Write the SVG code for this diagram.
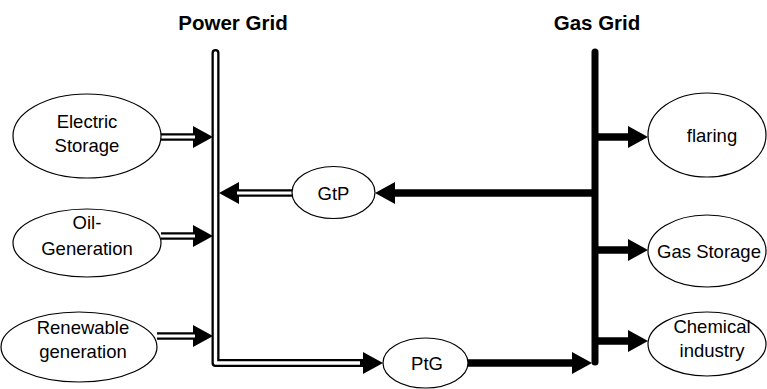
<svg xmlns="http://www.w3.org/2000/svg" width="767" height="389" viewBox="0 0 767 389">
<defs>
<style>
.node ellipse{fill:#fff;stroke:#000;stroke-width:1.2}
.lbl{font-family:"Liberation Sans",Arial,sans-serif;font-size:18.5px;fill:#000;text-anchor:middle}
.title{font-family:"Liberation Sans",Arial,sans-serif;font-size:20.5px;font-weight:bold;fill:#000;text-anchor:middle}
.out{fill:none;stroke:#000;stroke-width:7.5}
.in{fill:none;stroke:#fff;stroke-width:2.8}
.bus-out{fill:none;stroke:#000;stroke-width:8;stroke-linecap:round;stroke-linejoin:round}
.bus-in{fill:none;stroke:#fff;stroke-width:3.4;stroke-linecap:round;stroke-linejoin:round}
.thick{fill:none;stroke:#000;stroke-width:7.5}
.gbus{fill:none;stroke:#000;stroke-width:7;stroke-linecap:round}
</style>
<marker id="ah" markerUnits="userSpaceOnUse" viewBox="0 0 20 22" refX="0" refY="11" markerWidth="20" markerHeight="22" orient="auto">
<path d="M0,0 L20,11 L0,22 Z" fill="#000"/>
</marker>
</defs>
<rect width="767" height="389" fill="#fff"/>

<g id="titles">
<text class="title" x="233" y="30">Power Grid</text>
<text class="title" x="597" y="30">Gas Grid</text>
</g>

<g id="connectors">
<!-- power bus -->
<path class="bus-out" d="M215.5,53 V363 H363"/>
<path class="bus-in" d="M215.5,53 V363 H364"/>
<path class="out" d="M360,363 H363" marker-end="url(#ah)"/>
<!-- gas bus -->
<path class="gbus" d="M595,52 V362"/>
<!-- left inputs -->
<path class="out" d="M161,137 H193" marker-end="url(#ah)"/>
<path class="in" d="M161,137 H195"/>
<path class="out" d="M161,236 H193" marker-end="url(#ah)"/>
<path class="in" d="M161,236 H195"/>
<path class="out" d="M157,336 H193" marker-end="url(#ah)"/>
<path class="in" d="M157,336 H195"/>
<!-- GtP to power -->
<path class="out" d="M292,193 H239" marker-end="url(#ah)"/>
<path class="in" d="M292,193 H237"/>
<!-- gas to GtP -->
<path class="thick" d="M595,193 H395" marker-end="url(#ah)"/>
<!-- PtG to gas -->
<path class="thick" d="M468,363 H572" marker-end="url(#ah)"/>
<!-- gas outputs -->
<path class="thick" d="M595,137 H628" marker-end="url(#ah)"/>
<path class="thick" d="M595,250 H628" marker-end="url(#ah)"/>
<path class="thick" d="M595,341 H628" marker-end="url(#ah)"/>
</g>

<g id="electric-storage" class="node">
<ellipse cx="87" cy="136" rx="74" ry="42"/>
<text class="lbl" x="87" y="128">Electric</text>
<text class="lbl" x="87" y="152">Storage</text>
</g>
<g id="oil-generation" class="node">
<ellipse cx="87" cy="243" rx="74" ry="34"/>
<text class="lbl" x="87" y="229">Oil-</text>
<text class="lbl" x="87" y="255">Generation</text>
</g>
<g id="renewable-generation" class="node">
<ellipse cx="79" cy="347" rx="78" ry="35"/>
<text class="lbl" x="83" y="334">Renewable</text>
<text class="lbl" x="83" y="358">generation</text>
</g>
<g id="gtp" class="node">
<ellipse cx="333.5" cy="192.5" rx="41.5" ry="26"/>
<text class="lbl" x="333.5" y="200">GtP</text>
</g>
<g id="ptg" class="node">
<ellipse cx="425.5" cy="363" rx="42.5" ry="25"/>
<text class="lbl" x="427" y="370">PtG</text>
</g>
<g id="flaring" class="node">
<ellipse cx="707" cy="135" rx="59" ry="42"/>
<text class="lbl" x="712" y="142">flaring</text>
</g>
<g id="gas-storage" class="node">
<ellipse cx="707" cy="251" rx="59" ry="36"/>
<text class="lbl" x="709" y="258">Gas Storage</text>
</g>
<g id="chemical-industry" class="node">
<ellipse cx="707" cy="344" rx="59" ry="32"/>
<text class="lbl" x="712" y="333">Chemical</text>
<text class="lbl" x="712" y="357">industry</text>
</g>
</svg>
